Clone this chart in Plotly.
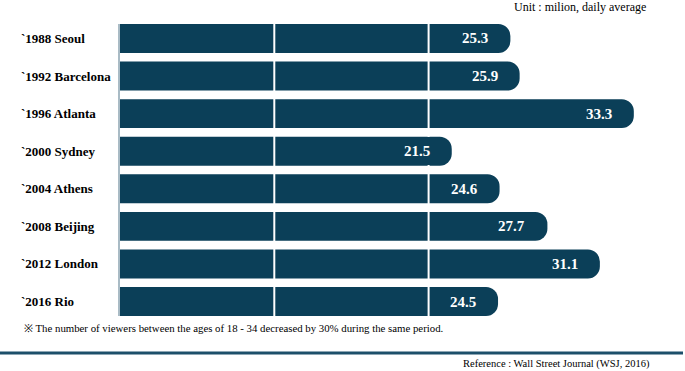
import plotly.graph_objects as go

categories = ["`1988 Seoul", "`1992 Barcelona", "`1996 Atlanta", "`2000 Sydney",
              "`2004 Athens", "`2008 Beijing", "`2012 London", "`2016 Rio"]
viewers = [25.3, 25.9, 33.3, 21.5, 24.6, 27.7, 31.1, 24.5]
grid_values = [10, 20]

unit_text = "Unit : milion, daily average"
footnote_text = "※ The number of viewers between the ages of 18 - 34 decreased by 30% during the same period."
reference_text = "Reference : Wall Street Journal (WSJ, 2016)"

BAR = "#0B3F58"
SERIF = "Liberation Serif, Times New Roman, serif"

W, H = 685, 371
ML, MR, MT, MB = 120, 5, 24, 55
PW = W - ML - MR
PH = H - MT - MB

def px_x(px):
    return (px - ML) / PW

def px_y(py):
    return (H - MB - py) / PH

fig = go.Figure()
fig.add_trace(go.Bar(
    y=categories, x=viewers, orientation="h",
    marker=dict(color=BAR, line=dict(width=0), cornerradius="42%"),
    hoverinfo="skip",
))

shapes = []
for g in grid_values:
    shapes.append(dict(type="line", xref="x", yref="paper", x0=g, x1=g, y0=0, y1=1,
                       line=dict(color="white", width=2), layer="above"))
shapes.append(dict(type="line", xref="paper", yref="paper",
                   x0=px_x(0), x1=px_x(683), y0=px_y(353), y1=px_y(353),
                   line=dict(color="#1C4F6A", width=3)))

annotations = []
for c, v in zip(categories, viewers):
    annotations.append(dict(text="<b>" + c + "</b>", xref="paper", yref="y", x=px_x(19), y=c,
                            xanchor="left", yanchor="middle", showarrow=False,
                            font=dict(family=SERIF, size=13, color="black")))
    annotations.append(dict(text="<b>%.1f</b>" % v, xref="x", yref="y", x=v, y=c,
                            xanchor="right", yanchor="middle", showarrow=False,
                            xshift=-16, bgcolor=BAR, borderpad=6, borderwidth=0,
                            font=dict(family=SERIF, size=15, color="white")))
annotations.append(dict(text=unit_text, xref="paper", yref="paper", x=px_x(648), y=px_y(7),
                        xanchor="right", yanchor="middle", showarrow=False,
                        font=dict(family=SERIF, size=12, color="black")))
annotations.append(dict(text=footnote_text, xref="paper", yref="paper", x=px_x(22), y=px_y(328),
                        xanchor="left", yanchor="middle", showarrow=False,
                        font=dict(family=SERIF, size=10.8, color="black")))
annotations.append(dict(text=reference_text, xref="paper", yref="paper", x=px_x(652), y=px_y(364),
                        xanchor="right", yanchor="middle", showarrow=False,
                        font=dict(family=SERIF, size=10.5, color="black")))

fig.update_layout(
    width=W, height=H,
    margin=dict(l=ML, r=MR, t=MT, b=MB),
    paper_bgcolor="white", plot_bgcolor="white",
    bargap=0.23,
    showlegend=False,
    shapes=shapes,
    annotations=annotations,
    xaxis=dict(range=[0, PW / 15.43], showgrid=False, zeroline=False,
               showticklabels=False, ticks="", fixedrange=True),
    yaxis=dict(categoryorder="array", categoryarray=categories,
               range=[len(categories) - 1 + 0.385, -0.385],
               showticklabels=False, ticks="", showgrid=False, zeroline=False,
               showline=True, linecolor="#A9BBC5", linewidth=2, fixedrange=True),
)

fig.write_html("out.html", config={"displayModeBar": False},
               post_script="document.body.style.margin='0';document.body.style.overflow='hidden';")
